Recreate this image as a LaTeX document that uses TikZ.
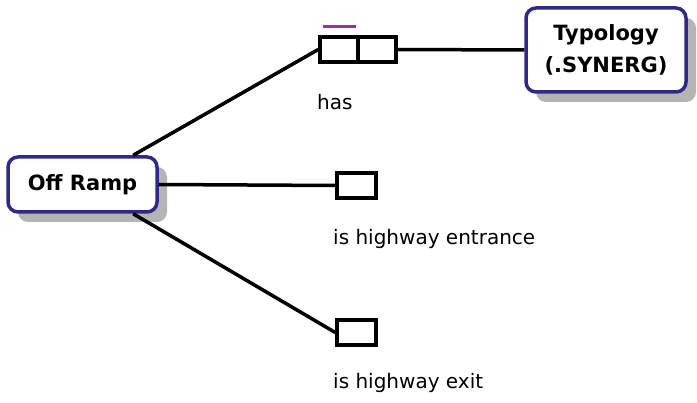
\documentclass[tikz,border=0pt]{standalone}
\usepackage{fontspec}
\setmainfont{DejaVu Sans}
\usetikzlibrary{shadows}

\definecolor{entityblue}{HTML}{2E2A85}
\definecolor{shadowgray}{HTML}{B4B4B4}
\definecolor{markpurple}{HTML}{9B30A0}

\tikzset{
  entity/.style={draw=entityblue, line width=3.5pt, fill=white, rounded corners=10pt,
    align=center, font=\fontsize{21}{32}\selectfont\bfseries,
    general shadow={fill=shadowgray, shadow xshift=10pt, shadow yshift=-10pt}},
  slot/.style={draw=black, line width=3.5pt, fill=white, minimum height=25pt, inner sep=0pt},
  link/.style={line width=3.5pt},
  rolelabel/.style={anchor=west, inner sep=0pt, font=\fontsize{20}{24}\selectfont}
}

\begin{document}
\begin{tikzpicture}[x=1pt, y=-1pt]
        \useasboundingbox (0, 0) rectangle (697, 403);

        \node[entity, minimum width=149pt, minimum height=55pt] (off) at (82.5, 184.5) {Off Ramp};
        \node[entity, minimum width=160pt, minimum height=84pt] (typ) at (606, 50) {Typology\\(.SYNERG)};

        \node[slot, minimum width=38pt] (hasA) at (339, 49.5) {};
        \node[slot, minimum width=38pt] (hasB) at (377, 49.5) {};
        \node[slot, minimum width=39pt] (entr) at (356.5, 185.5) {};
        \node[slot, minimum width=39pt] (exit) at (356.5, 332.5) {};

        \node[rolelabel] (hasL) at (317, 102) {has};
        \node[rolelabel] (entrL) at (333, 239) {is highway entrance};
        \node[rolelabel] (exitL) at (333, 383) {is highway exit};

        \draw[link] (off.30) -- (hasA.west);
        \draw[link] (hasB.east) -- (typ.west);
        \draw[link] (off.east) -- (entr.west);
        \draw[link] (off.-30) -- (exit.west);
        \draw[markpurple, line width=3pt] (323, 27) -- (356, 27);
    \end{tikzpicture}
\end{document}
